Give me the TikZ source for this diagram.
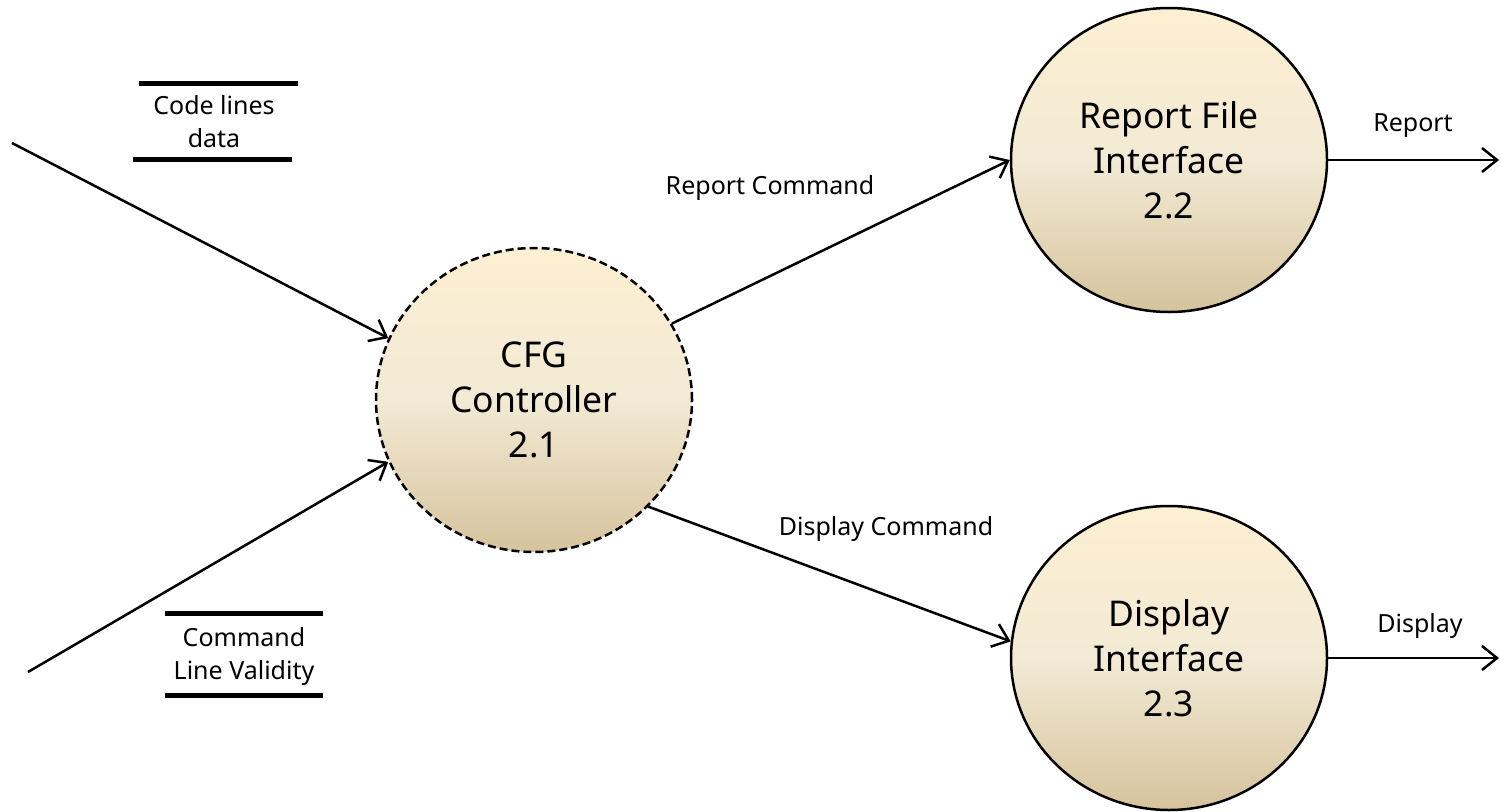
\documentclass[tikz,border=0pt]{standalone}
\usepackage{fontspec}
\setmainfont{Noto Sans}
\usetikzlibrary{arrows.meta,shapes.geometric}

\definecolor{bubbletop}{RGB}{253,239,210}
\definecolor{bubblemid}{RGB}{242,234,212}
\definecolor{bubblebot}{RGB}{214,195,157}

\tikzset{
  process/.style={ellipse, draw, line width=2.5pt,
    minimum width=316pt, minimum height=304pt, inner sep=0pt,
    align=center, font=\fontsize{35.5}{45}\selectfont,
    top color=bubbletop, bottom color=bubblebot, middle color=bubblemid},
  control/.style={process, dash pattern=on 8pt off 4pt},
  flow/.style={line width=2.5pt,
    -{Straight Barb[length=15pt,width=24pt,line width=2.5pt]}},
  flowlabel/.style={font=\fontsize{25}{33}\selectfont},
  storebar/.style={line width=5pt},
  storetext/.style={align=center, font=\fontsize{25}{33}\selectfont}
}

\begin{document}
\begin{tikzpicture}[x=1pt,y=-1pt]
  \useasboundingbox (0,0) rectangle (1501,811);

  % processes
  \node [control] (cfg) at (534,400) {CFG\\Controller\\2.1};
  \node [process] (report) at (1169,160) {Report File\\Interface\\2.2};
  \node [process] (display) at (1169,658) {Display\\Interface\\2.3};

  % data stores
  \node [storetext] (codelines) at (214,122) {Code lines\\data};
  \draw [storebar] (139,83) -- (298,83);
  \draw [storebar] (133,159) -- (292,159);

  \node [storetext] (validity) at (244,656) {Command\\Line Validity};
  \draw [storebar] (165,613) -- (323,613);
  \draw [storebar] (165,695) -- (323,695);

  % free ends
  \coordinate (srccode) at (12,143);
  \coordinate (srcvalid) at (28,672);
  \coordinate (outreport) at (1499,160);
  \coordinate (outdisplay) at (1499,658);

  % flows
  \draw [flow] (srccode) -- (cfg.157);
  \draw [flow] (srcvalid) -- (cfg.203);
  \draw [flow] (cfg.29) -- (report.180);
  \draw [flow] (cfg.317) -- (display.174);
  \draw [flow] (report.0) -- (outreport);
  \draw [flow] (display.0) -- (outdisplay);

  % flow labels
  \node [flowlabel] (lblrepcmd) at (770,188) {Report Command};
  \node [flowlabel] (lbldispcmd) at (886,529) {Display Command};
  \node [flowlabel] (lblreport) at (1413,126) {Report};
  \node [flowlabel] (lbldisplay) at (1420,626) {Display};
\end{tikzpicture}
\end{document}
